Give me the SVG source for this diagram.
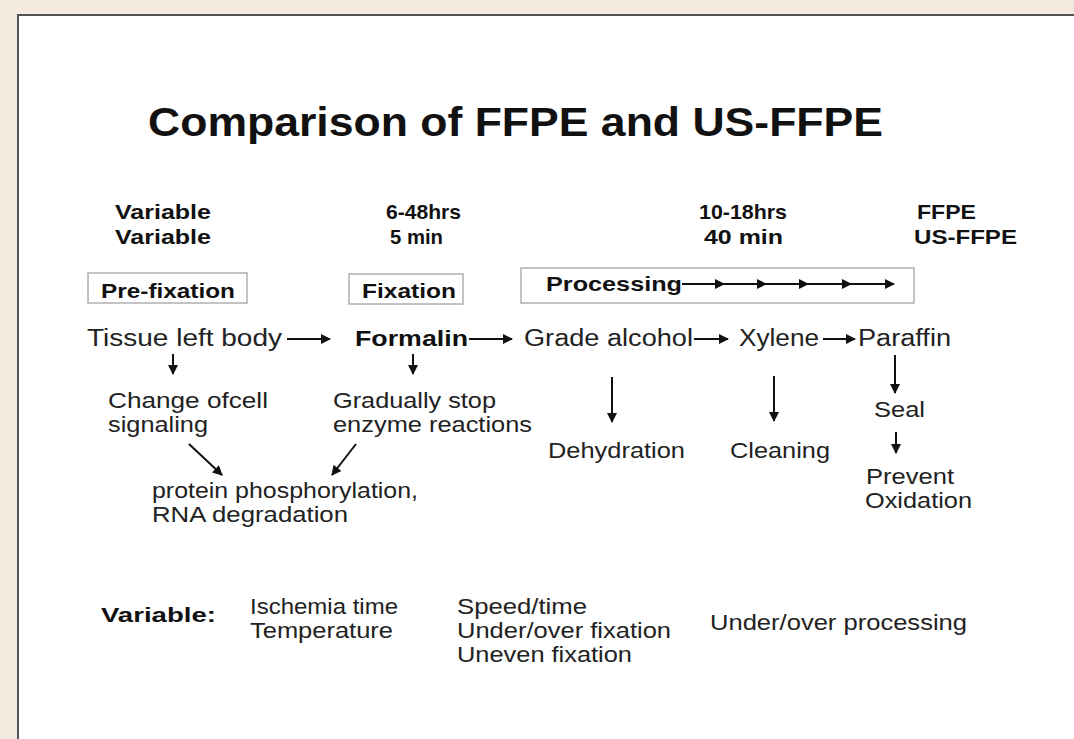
<svg xmlns="http://www.w3.org/2000/svg" width="1074" height="739" viewBox="0 0 1074 739">
<defs>
<marker id="ah" viewBox="0 0 10 10" refX="9" refY="5" markerWidth="5.5" markerHeight="5" markerUnits="strokeWidth" orient="auto">
<path d="M0,0 L10,5 L0,10 z" fill="#111"/>
</marker>
<style>
.t{font-family:"Liberation Sans",Arial,sans-serif;fill:#222;font-size:22px}
.n{font-size:22px}
.b{font-family:"Liberation Sans",Arial,sans-serif;fill:#111;font-weight:bold;font-size:21px}
.box{fill:#fff;stroke:#b0b0b0;stroke-width:1.5}
.c line{stroke:#111;stroke-width:2;marker-end:url(#ah)}
</style>
</defs>
<rect x="0" y="0" width="1074" height="739" fill="#f4eae0"/>
<rect x="18" y="15" width="1056" height="724" fill="#fff"/>
<line x1="17" y1="15" x2="1074" y2="15" stroke="#555" stroke-width="2"/>
<line x1="18" y1="14" x2="18" y2="739" stroke="#555" stroke-width="2"/>

<text class="b" x="148" y="136" textLength="735" lengthAdjust="spacingAndGlyphs" style="font-size:40px">Comparison of FFPE and US-FFPE</text>

<g id="times">
<text class="b" x="115" y="219" textLength="96" lengthAdjust="spacingAndGlyphs">Variable</text>
<text class="b" x="115" y="244" textLength="96" lengthAdjust="spacingAndGlyphs">Variable</text>
<text class="b" x="386" y="219" textLength="75" lengthAdjust="spacingAndGlyphs">6-48hrs</text>
<text class="b" x="390" y="244" textLength="53" lengthAdjust="spacingAndGlyphs">5 min</text>
<text class="b" x="699" y="219" textLength="88" lengthAdjust="spacingAndGlyphs">10-18hrs</text>
<text class="b" x="704" y="244" textLength="79" lengthAdjust="spacingAndGlyphs">40 min</text>
<text class="b" x="917" y="219" textLength="59" lengthAdjust="spacingAndGlyphs">FFPE</text>
<text class="b" x="914" y="244" textLength="103" lengthAdjust="spacingAndGlyphs">US-FFPE</text>
</g>

<g id="prefixation">
<rect class="box" x="88" y="273" width="159" height="30"/>
<text class="b" x="101" y="298" textLength="134" lengthAdjust="spacingAndGlyphs">Pre-fixation</text>
</g>
<g id="fixation">
<rect class="box" x="349" y="274" width="114" height="30"/>
<text class="b" x="362" y="298" textLength="94" lengthAdjust="spacingAndGlyphs">Fixation</text>
</g>
<g id="processing">
<rect class="box" x="521" y="268" width="393" height="35"/>
<text class="b" x="546" y="291" textLength="136" lengthAdjust="spacingAndGlyphs">Processing</text>
</g>

<g id="tissue"><text class="t" x="87" y="346" textLength="195" lengthAdjust="spacingAndGlyphs" style="font-size:23px">Tissue left body</text></g>
<g id="formalin"><text class="b" x="355" y="346" textLength="113" lengthAdjust="spacingAndGlyphs" style="font-size:22px">Formalin</text></g>
<g id="grade-alcohol"><text class="t" x="524" y="346" textLength="169" lengthAdjust="spacingAndGlyphs" style="font-size:23px">Grade alcohol</text></g>
<g id="xylene"><text class="t" x="739" y="346" textLength="80" lengthAdjust="spacingAndGlyphs" style="font-size:23px">Xylene</text></g>
<g id="paraffin"><text class="t" x="858" y="346" textLength="93" lengthAdjust="spacingAndGlyphs" style="font-size:23px">Paraffin</text></g>

<g id="cell-signaling">
<text class="t" x="108" y="408" textLength="160" lengthAdjust="spacingAndGlyphs">Change ofcell</text>
<text class="t" x="108" y="432" textLength="100" lengthAdjust="spacingAndGlyphs">signaling</text>
</g>
<g id="enzyme">
<text class="t" x="333" y="408" textLength="163" lengthAdjust="spacingAndGlyphs">Gradually stop</text>
<text class="t" x="333" y="432" textLength="199" lengthAdjust="spacingAndGlyphs">enzyme reactions</text>
</g>
<g id="protein">
<text class="t" x="152" y="498" textLength="266" lengthAdjust="spacingAndGlyphs">protein phosphorylation,</text>
<text class="t" x="152" y="522" textLength="196" lengthAdjust="spacingAndGlyphs">RNA degradation</text>
</g>
<g id="dehydration"><text class="t" x="548" y="458" textLength="137" lengthAdjust="spacingAndGlyphs">Dehydration</text></g>
<g id="cleaning"><text class="t" x="730" y="458" textLength="100" lengthAdjust="spacingAndGlyphs">Cleaning</text></g>
<g id="seal"><text class="t" x="874" y="417" textLength="51" lengthAdjust="spacingAndGlyphs">Seal</text></g>
<g id="oxidation">
<text class="t" x="866" y="484" textLength="88" lengthAdjust="spacingAndGlyphs">Prevent</text>
<text class="t" x="865" y="508" textLength="107" lengthAdjust="spacingAndGlyphs">Oxidation</text>
</g>

<g id="variables">
<text class="b" x="101" y="622" textLength="115" lengthAdjust="spacingAndGlyphs">Variable:</text>
<text class="t n" x="250" y="614" textLength="148" lengthAdjust="spacingAndGlyphs">Ischemia time</text>
<text class="t n" x="250" y="638" textLength="143" lengthAdjust="spacingAndGlyphs">Temperature</text>
<text class="t n" x="457" y="614" textLength="130" lengthAdjust="spacingAndGlyphs">Speed/time</text>
<text class="t n" x="457" y="638" textLength="214" lengthAdjust="spacingAndGlyphs">Under/over fixation</text>
<text class="t n" x="457" y="662" textLength="175" lengthAdjust="spacingAndGlyphs">Uneven fixation</text>
<text class="t n" x="710" y="630" textLength="257" lengthAdjust="spacingAndGlyphs">Under/over processing</text>
</g>

<g id="connectors" class="c">
<line x1="682" y1="284" x2="724" y2="284"/>
<line x1="724" y1="284" x2="766" y2="284"/>
<line x1="766" y1="284" x2="808" y2="284"/>
<line x1="808" y1="284" x2="851" y2="284"/>
<line x1="851" y1="284" x2="894" y2="284"/>
<line x1="287" y1="339" x2="330" y2="339"/>
<line x1="469" y1="339" x2="512" y2="339"/>
<line x1="694" y1="339" x2="728" y2="339"/>
<line x1="823" y1="339" x2="855" y2="339"/>
<line x1="173" y1="354" x2="173" y2="374"/>
<line x1="413" y1="354" x2="413" y2="374"/>
<line x1="189" y1="444" x2="222" y2="475"/>
<line x1="356" y1="444" x2="332" y2="475"/>
<line x1="612" y1="377" x2="612" y2="422"/>
<line x1="774" y1="376" x2="774" y2="421"/>
<line x1="895" y1="355" x2="895" y2="393"/>
<line x1="896" y1="432" x2="896" y2="453"/>
</g>
</svg>
